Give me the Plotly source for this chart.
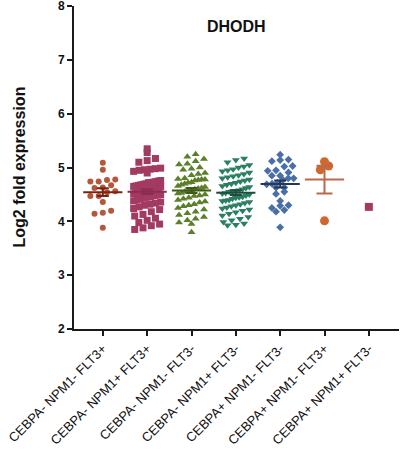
import numpy as np
import plotly.graph_objects as go

categories = ["CEBPA- NPM1- FLT3+", "CEBPA- NPM1+ FLT3+", "CEBPA- NPM1- FLT3-",
              "CEBPA- NPM1+ FLT3-", "CEBPA+ NPM1- FLT3-", "CEBPA+ NPM1- FLT3+",
              "CEBPA+ NPM1+ FLT3-"]
y_ticks = [2, 3, 4, 5, 6, 7, 8]

g1 = [5.09, 4.96, 4.78, 4.77, 4.74, 4.74, 4.67, 4.63, 4.62, 4.56, 4.54, 4.47,
      4.47, 4.36, 4.20, 4.16, 4.14, 3.88]
g2 = [5.35, 5.28, 5.17, 5.13, 5.10, 4.99, 4.98, 4.97, 4.96, 4.95, 4.93, 4.90,
      4.76, 4.75, 4.74, 4.73, 4.72, 4.72, 4.70, 4.69, 4.68, 4.67, 4.66, 4.65,
      4.64, 4.63, 4.62, 4.61, 4.60, 4.59, 4.58, 4.57, 4.56, 4.55, 4.55, 4.53,
      4.52, 4.51, 4.50, 4.49, 4.48, 4.46, 4.45, 4.43, 4.42, 4.40, 4.38, 4.36,
      4.34, 4.32, 4.30, 4.27, 4.24, 4.22, 4.18, 4.13, 4.10, 4.06, 4.02, 3.98,
      3.95, 3.92, 3.88, 3.85]
g3 = [5.25, 5.20, 5.16, 5.12, 5.07, 5.06, 5.00, 4.98, 4.96, 4.90, 4.88, 4.86,
      4.80, 4.79, 4.78, 4.78, 4.77, 4.76, 4.73, 4.72, 4.70, 4.68, 4.66, 4.64,
      4.62, 4.61, 4.60, 4.58, 4.57, 4.55, 4.53, 4.52, 4.50, 4.48, 4.47, 4.44,
      4.42, 4.40, 4.37, 4.35, 4.32, 4.30, 4.28, 4.25, 4.22, 4.18, 4.15, 4.12,
      4.08, 4.05, 4.02, 3.98, 3.95, 3.80]
g4 = [5.17, 5.14, 5.10, 5.05, 5.02, 5.00, 4.97, 4.95, 4.93, 4.91, 4.88, 4.86,
      4.84, 4.82, 4.80, 4.78, 4.76, 4.74, 4.72, 4.70, 4.68, 4.66, 4.64, 4.62,
      4.60, 4.58, 4.57, 4.56, 4.55, 4.53, 4.52, 4.50, 4.48, 4.46, 4.45, 4.44,
      4.42, 4.40, 4.39, 4.38, 4.36, 4.34, 4.32, 4.30, 4.28, 4.26, 4.24, 4.22,
      4.20, 4.17, 4.14, 4.11, 4.08, 4.05, 4.02, 3.99, 3.96, 3.94, 3.93]
g5 = [5.24, 5.15, 5.14, 5.12, 5.03, 5.02, 4.95, 4.94, 4.91, 4.85, 4.85, 4.80,
      4.80, 4.77, 4.72, 4.70, 4.69, 4.63, 4.63, 4.55, 4.51, 4.38, 4.30, 4.29,
      4.25, 4.21, 4.18, 3.89]
g6 = [5.11, 5.03, 4.96, 4.01]
g7 = [4.27]

groups = [g1, g2, g3, g4, g5, g6, g7]
colors = ["#B5573A", "#A33A62", "#5C7F2A", "#2B7F62", "#4A6FA8", "#D0682E", "#A33A62"]
mean_colors = ["#7A2410", "#8A2D52", "#3E5A1A", "#1E4F3E", "#26385A", "#B86A4E", "#8A2D52"]
symbols = ["circle", "square", "triangle-up", "triangle-down", "diamond", "circle", "square"]
sizes = [6, 7, 7, 7, 6, 9, 8]

W, H = 404, 449
ml, mr, mt, mb = 74, 5, 6, 120
x_range = [-0.65, 6.68]
y_range = [2, 8.004]
px_x = (W - ml - mr) / (x_range[1] - x_range[0])
px_y = (H - mt - mb) / (y_range[1] - y_range[0])


def swarm(vals, size):
    v = np.asarray(vals, dtype=float)
    ypx = v * px_y
    rowh = size * 1.05
    spacing = 8.3
    maxw = 27.0
    bins = np.floor(ypx / rowh)
    off = np.zeros(len(v))
    for b in np.unique(bins):
        idx = np.where(bins == b)[0]
        idx = idx[np.argsort(v[idx])]
        n = len(idx)
        step = spacing if n <= 1 else min(spacing, maxw / (n - 1))
        for k, i in enumerate(idx):
            off[i] = (k - (n - 1) / 2) * step
    return off / px_x


fig = go.Figure()
for i, vals in enumerate(groups):
    xs = i + swarm(vals, sizes[i])
    fig.add_trace(go.Scatter(
        x=xs, y=vals, mode="markers",
        marker=dict(symbol=symbols[i], size=sizes[i], color=colors[i], line=dict(width=0)),
        showlegend=False, hoverinfo="y"))

for i, vals in enumerate(groups):
    if len(vals) < 2:
        continue
    arr = np.asarray(vals)
    m = arr.mean()
    sem = arr.std(ddof=1) / np.sqrt(len(arr))
    fig.add_trace(go.Scatter(
        x=[i], y=[m], mode="markers",
        marker=dict(symbol="line-ew", size=28, color=mean_colors[i],
                    line=dict(width=2, color=mean_colors[i])),
        error_y=dict(type="data", array=[sem], visible=True, color=mean_colors[i],
                     thickness=2, width=6 if i != 5 else 8),
        showlegend=False, hoverinfo="skip"))

axis_color = "#1a1a1a"
fig.update_layout(
    width=W, height=H,
    margin=dict(l=ml, r=mr, t=mt, b=mb, autoexpand=False),
    paper_bgcolor="white", plot_bgcolor="white",
    font=dict(family="Arial, Liberation Sans, sans-serif", color="#111"),
    xaxis=dict(range=x_range, tickmode="array", tickvals=list(range(len(categories))),
               ticktext=categories, tickangle=-45, tickfont=dict(size=13),
               showline=True, linewidth=2, linecolor=axis_color,
               ticks="outside", ticklen=5, tickwidth=1.5, tickcolor=axis_color,
               showgrid=False, zeroline=False, ticklabeloverflow="allow"),
    yaxis=dict(range=y_range, tickmode="array", tickvals=y_ticks,
               ticktext=[str(t) for t in y_ticks],
               tickfont=dict(size=12, weight="bold"),
               showline=True, linewidth=2, linecolor=axis_color,
               ticks="outside", ticklen=5, tickwidth=1.5, tickcolor=axis_color,
               showgrid=False, zeroline=False, ticklabeloverflow="allow"),
    annotations=[
        dict(text="DHODH", x=0.5, y=(H - mb - 27) / (H - mt - mb), xref="paper", yref="paper",
             showarrow=False, font=dict(size=16, weight="bold"), xanchor="center", yanchor="middle"),
        dict(text="Log2 fold expression", x=(19 - ml) / (W - ml - mr), y=0.5,
             xref="paper", yref="paper", textangle=-90, showarrow=False,
             font=dict(size=16, weight="bold"), xanchor="center", yanchor="middle"),
    ],
)

fig.write_html("out.html", config={"displayModeBar": False},
               post_script="document.body.style.margin='0';")
